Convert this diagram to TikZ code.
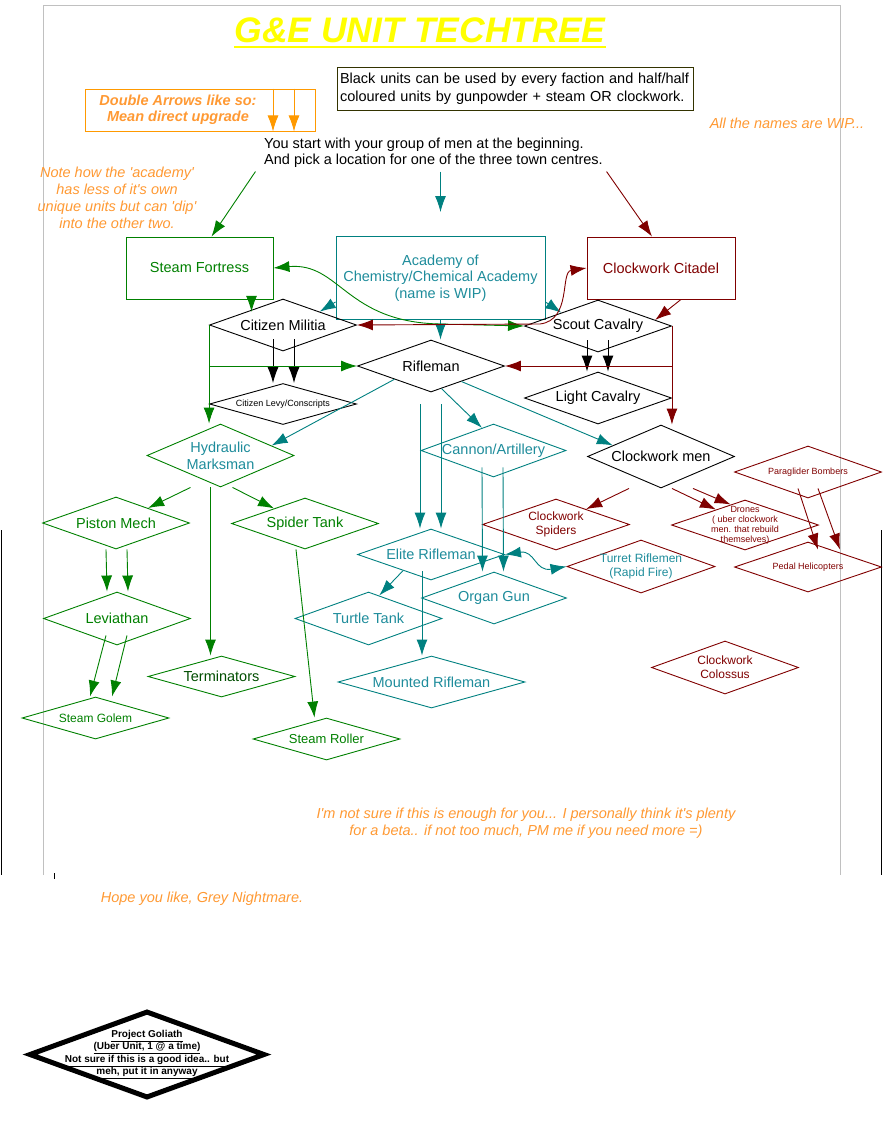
\documentclass[tikz,border=0pt]{standalone}
\usepackage{fontspec}
\setmainfont{Liberation Sans}[Ligatures=TeXOff]
\usetikzlibrary{shapes.geometric,arrows.meta}

\definecolor{steam}{RGB}{0,128,0}
\definecolor{gunpowder}{RGB}{0,128,128}
\definecolor{gunpowdertext}{RGB}{30,140,155}
\definecolor{clockwork}{RGB}{128,0,0}
\definecolor{remarkorange}{RGB}{255,153,0}
\definecolor{remarktext}{RGB}{255,153,51}
\definecolor{noteline}{RGB}{51,51,0}
\definecolor{pageline}{RGB}{192,192,192}
\definecolor{titleyellow}{RGB}{255,255,0}

\begin{document}
\begin{tikzpicture}
[x=1pt, y=-1pt, line width=0.9pt, >={Latex[length=16pt,width=11pt]},
% STYLES
every node/.style={font=\fontsize{14.5}{17}\selectfont},
% The town style is used to draw the three town centres
town/.style={rectangle, draw, minimum width=147pt, minimum height=62pt, align=center},
% The unit style is used to draw the units' diamonds
unit/.style={diamond, draw, aspect=2.5, inner sep=-6pt, minimum width=147pt, minimum height=52pt, align=center},
steamunit/.style={unit, draw=steam, text=steam},
gununit/.style={unit, draw=gunpowder, text=gunpowdertext},
clockunit/.style={unit, draw=clockwork, text=clockwork},
% The remark style is used for the orange comments
remark/.style={text=remarktext, font=\fontsize{14.5}{17}\selectfont\itshape, align=center},
tinytext/.style={font=\fontsize{9}{10}\selectfont},
smalltext/.style={font=\fontsize{12}{14}\selectfont},
steamarrow/.style={->, color=steam},
gunarrow/.style={->, color=gunpowder},
clockarrow/.style={->, color=clockwork}]

\useasboundingbox (0,0) rectangle (883,1125);

% page edges
\draw [pageline] (43,875) -- (43,5) -- (840,5) -- (840,875);
\draw (1,530) -- (1,875);
\draw (881,530) -- (881,875);
\draw (54,873) -- (54,879);

% Title and notes
\node [inner sep=0pt, text=titleyellow, font=\fontsize{35.5}{40}\selectfont\bfseries\itshape] (title) at (420,30) {G\&E UNIT TECHTREE};
\draw [titleyellow, line width=2.5pt] ([yshift=-5pt]title.base west) -- ([yshift=-5pt]title.base east);

\node [draw=remarkorange, minimum width=230pt, minimum height=42pt] (legend) at (200,110) {};
\node [remark, font=\fontsize{14.5}{16}\selectfont\bfseries\itshape] (legendtext) at (178,110) {Double Arrows like so:\\Mean direct upgrade};
\draw [->, color=remarkorange] ([xshift=73pt]legend.north) -- ([xshift=73pt]legend.south);
\draw [->, color=remarkorange] ([xshift=94pt]legend.north) -- ([xshift=94pt]legend.south);

\node [draw=noteline, minimum width=356pt, minimum height=43pt, inner xsep=3pt, text width=350pt, align=left, font=\fontsize{14.5}{18}\selectfont] (note) at (515,88.5) {Black units can be used by every faction and half/half\\coloured units by gunpowder + steam OR clockwork.};
\node [remark] (wip) at (787,123) {All the names are WIP...};
\node [align=left, font=\fontsize{14.5}{16}\selectfont] (start) at (433.5,153) {You start with your group of men at the beginning.\\And pick a location for one of the three town centres.};
\node [remark] (dip) at (117,198) {Note how the 'academy'\\has less of it's own\\unique units but can 'dip'\\into the other two.};
\node [remark] (beta) at (526,823) {I'm not sure if this is enough for you... I personally think it's plenty\\for a beta.. if not too much, PM me if you need more =)};
\node [remark] (hope) at (202,899) {Hope you like, Grey Nightmare.};

% Town centres
\node [town, draw=steam, text=steam] (fortress) at (199.5,268) {Steam Fortress};
\node [town, draw=gunpowder, text=gunpowdertext, minimum width=209pt, minimum height=83pt, font=\fontsize{14.5}{16.5}\selectfont] (academy) at (440.5,278) {Academy of\\Chemistry/Chemical Academy\\(name is WIP)};
\node [town, draw=clockwork, text=clockwork, minimum width=148pt] (citadel) at (661,268) {Clockwork Citadel};

% Units
\node [unit] (militia) at (283,325) {Citizen Militia};
\node [unit] (scout) at (598,326) {Scout Cavalry};
\node [unit] (rifleman) at (431,366) {Rifleman};
\node [unit, tinytext, minimum height=41pt] (levy) at (283,404) {Citizen Levy/Conscripts};
\node [unit] (lightcav) at (598,398) {Light Cavalry};
\node [unit, draw=steam, text=gunpowdertext, minimum height=63pt] (hydraulic) at (220.5,455.5) {Hydraulic\\Marksman};
\node [gununit, minimum width=145pt, minimum height=53pt] (cannon) at (493.5,450.5) {Cannon/Artillery};
\node [unit, minimum height=63pt] (clockmen) at (661,456.5) {Clockwork men};
\node [clockunit, tinytext] (paraglider) at (808,472) {Paraglider Bombers};
\node [steamunit] (piston) at (116,523) {Piston Mech};
\node [steamunit, minimum height=51pt] (spidertank) at (305,523.5) {Spider Tank};
\node [clockunit, smalltext, minimum height=51pt] (spiders) at (556,524.5) {Clockwork\\Spiders};
\node [clockunit, tinytext, minimum height=50pt] (drones) at (745,525) {Drones\\( uber clockwork\\men. that rebuild\\themselves)};
\node [gununit, minimum height=51pt] (elite) at (431,554.5) {Elite Rifleman};
\node [unit, draw=clockwork, text=gunpowdertext, smalltext, minimum width=148pt, minimum height=53pt] (turret) at (641,566.5) {Turret Riflemen\\(Rapid Fire)};
\node [clockunit, tinytext, minimum height=50pt] (helicopters) at (808,567) {Pedal Helicopters};
\node [gununit, minimum width=145pt] (organ) at (494,598) {Organ Gun};
\node [steamunit, minimum height=53pt] (leviathan) at (117,618.5) {Leviathan};
\node [gununit, minimum height=53pt] (turtle) at (368.5,618.5) {Turtle Tank};
\node [steamunit, text=steam!60!black, minimum height=41pt] (terminators) at (221.5,676.5) {Terminators};
\node [gununit, minimum width=187pt] (mounted) at (431.5,682) {Mounted Rifleman};
\node [clockunit, smalltext, minimum height=53pt] (colossus) at (725,667.5) {Clockwork\\Colossus};
\node [steamunit, font=\fontsize{12}{14}\selectfont, minimum height=42pt] (golem) at (95.5,718) {Steam Golem};
\node [steamunit, font=\fontsize{13}{15}\selectfont, minimum height=42pt] (roller) at (326.5,739) {Steam Roller};
\node [unit, aspect=3, inner sep=-10pt, line width=5pt, minimum width=236pt, minimum height=87pt, font=\fontsize{10}{12.3}\selectfont\bfseries] (goliath) at (147,1054.5) {\underline{Project Goliath}\\\underline{(Uber Unit, 1 @ a time)}\\\underline{Not sure if this is a good idea.. but}\\\underline{meh, put it in anyway}};

% Draw connections from the start
\draw [steamarrow] ([xshift=-5pt]start.south west) -- ([xshift=12pt]fortress.north);
\draw [gunarrow, shorten >=24pt] (academy.north |- start.south) -- (academy.north);
\draw [clockarrow] (start.south east) -- ([xshift=-9pt]citadel.north);

% Town centres to units
\draw [steamarrow] ([xshift=52pt]fortress.south) -- ([xshift=52pt]fortress.south |- militia.north west);
\draw [gunarrow] ([yshift=18pt]academy.south west) -- (militia.20);
\draw [gunarrow] ([yshift=18pt]academy.south east) -- (scout.160);
\draw [gunarrow] (academy.south) -- (academy.south |- rifleman.north);
\draw [clockarrow] ([xshift=20pt]citadel.south) -- (scout.6);
\draw [steamarrow, <->] (fortress.east) .. controls (340,262) and (345,322) .. (440,324) -- (scout.west);
\draw [clockarrow, <->] (militia.east) -- (540,324) .. controls (572,320) and (560,272) .. (citadel.west);

% Militia and cavalry
\draw [->] ([xshift=-10pt,yshift=12pt]militia.south) -- ([xshift=-10pt]levy.north);
\draw [->] ([xshift=11pt,yshift=12pt]militia.south) -- ([xshift=11pt]levy.north);
\draw [steamarrow] (militia.west) -- (militia.west |- hydraulic.north);
\draw [steamarrow] (militia.west |- rifleman.west) -- (rifleman.west);
\draw [->] ([xshift=-11pt,yshift=12pt]scout.south) -- ([xshift=-11pt]lightcav.north);
\draw [->] ([xshift=10pt,yshift=12pt]scout.south) -- ([xshift=10pt]lightcav.north);
\draw [clockarrow] (scout.east) -- (scout.east |- clockmen.north);
\draw [clockarrow] (scout.east |- rifleman.east) -- (rifleman.east);

% Rifleman
\draw [gunarrow] (rifleman.200) -- (hydraulic.11);
\draw [gunarrow] (rifleman.295) -- (cannon.117);
\draw [gunarrow] (rifleman.333) -- (clockmen.167);
\draw [gunarrow] ([xshift=-11pt,yshift=-12pt]rifleman.south) -- ([xshift=-11pt]elite.north);
\draw [gunarrow] ([xshift=10pt,yshift=-12pt]rifleman.south) -- ([xshift=10pt]elite.north);
\draw [gunarrow] ([xshift=-11.5pt,yshift=10pt]cannon.south) -- ([xshift=-11.5pt]organ.north);
\draw [gunarrow] ([xshift=9.5pt,yshift=10pt]cannon.south) -- ([xshift=9.5pt]organ.north);

% Steam branch
\draw [steamarrow] ([xshift=-30pt]hydraulic.south) -- (piston.25);
\draw [steamarrow] ([xshift=12pt]hydraulic.south) -- (spidertank.154);
\draw [steamarrow] ([xshift=-10pt]hydraulic.south) -- ([xshift=-11pt]terminators.north);
\draw [steamarrow] ([xshift=-9pt]spidertank.south) -- ([xshift=-12pt]roller.north);
\draw [steamarrow] ([xshift=-10pt]piston.south) -- ([xshift=-10pt]leviathan.north);
\draw [steamarrow] ([xshift=11pt]piston.south) -- ([xshift=11pt]leviathan.north);
\draw [steamarrow] ([xshift=-11pt,yshift=10pt]leviathan.south) -- ([xshift=-5.5pt]golem.north);
\draw [steamarrow] ([xshift=10pt,yshift=10pt]leviathan.south) -- ([xshift=16.5pt]golem.north);

% Elite rifleman
\draw [gunarrow] (elite.210) -- (turtle.65);
\draw [gunarrow] ([xshift=-9pt,yshift=9pt]elite.south) -- ([xshift=-9.5pt]mounted.north);
\draw [gunarrow, <->] (elite.east) .. controls (535,550) and (535,572) .. (turret.west);

% Clockwork branch
\draw [clockarrow] ([xshift=-32pt]clockmen.south) -- (spiders.27);
\draw [clockarrow] ([xshift=11pt]clockmen.south) -- (drones.152);
\draw [clockarrow] ([xshift=32pt]clockmen.south) -- (drones.125);
\draw [clockarrow] ([xshift=-10pt,yshift=10pt]paraglider.south) -- ([xshift=10pt,yshift=-8pt]helicopters.north);
\draw [clockarrow] ([xshift=10pt,yshift=10pt]paraglider.south) -- ([xshift=32pt,yshift=-8pt]helicopters.north);

\end{tikzpicture}
\end{document}
